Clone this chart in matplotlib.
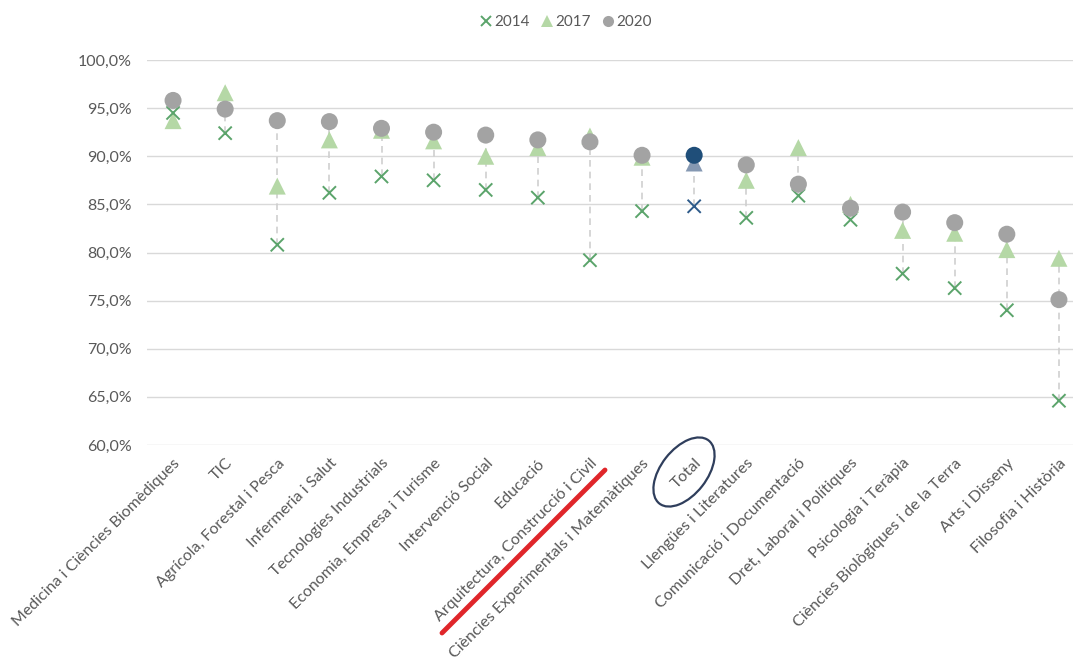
import matplotlib.pyplot as plt
import numpy as np
from matplotlib.patches import Ellipse
from matplotlib.lines import Line2D
from matplotlib.ticker import FuncFormatter

categories = [
    "Medicina i Ciències Biomèdiques", "TIC", "Agrícola, Forestal i Pesca",
    "Infermeria i Salut", "Tecnologies Industrials", "Economia, Empresa i Turisme",
    "Intervenció Social", "Educació", "Arquitectura, Construcció i Civil",
    "Ciències Experimentals i Matemàtiques", "Total", "Llengües i Literatures",
    "Comunicació i Documentació", "Dret, Laboral i Polítiques", "Psicologia i Teràpia",
    "Ciències Biològiques i de la Terra", "Arts i Disseny", "Filosofia i Història",
]
v2014 = [94.5, 92.4, 80.8, 86.2, 87.9, 87.5, 86.5, 85.7, 79.2, 84.3, 84.8, 83.6, 85.9, 83.4, 77.8, 76.3, 74.0, 64.6]
v2017 = [93.7, 96.6, 86.9, 91.7, 92.7, 91.6, 90.0, 90.9, 92.1, 89.9, 89.3, 87.5, 90.9, 85.0, 82.3, 82.0, 80.3, 79.4]
v2020 = [95.8, 94.9, 93.7, 93.6, 92.9, 92.5, 92.2, 91.7, 91.5, 90.1, 90.1, 89.1, 87.1, 84.6, 84.2, 83.1, 81.9, 75.1]
yticks = [60, 65, 70, 75, 80, 85, 90, 95, 100]

total_idx = categories.index("Total")
x = np.arange(len(categories))

c14, c17, c20 = "#5ba46b", "#b5d8a6", "#a3a3a3"
t14, t17, t20 = "#2e5b8a", "#8598b2", "#1f4e79"
txt = "#595959"

plt.rcParams['font.family'] = ['Lato', 'DejaVu Sans']

fig = plt.figure(figsize=(10.73, 6.59), dpi=100)
ax = fig.add_axes([147 / 1073, 214 / 659, 938 / 1073, 385 / 659])
ax.set_xlim(-0.5, len(categories) - 0.5)
ax.set_ylim(60, 100)

for i in x:
    lo = min(v2014[i], v2017[i], v2020[i])
    hi = max(v2014[i], v2017[i], v2020[i])
    ax.plot([i, i], [lo, hi], color="#cfcfcf", lw=1.2, ls=(0, (4, 3)), zorder=2)

col14 = [t14 if i == total_idx else c14 for i in x]
col17 = [t17 if i == total_idx else c17 for i in x]
col20 = [t20 if i == total_idx else c20 for i in x]

ax.scatter(x, v2017, marker="^", s=150, c=col17, zorder=3, linewidths=0)
ax.scatter(x, v2014, marker="x", s=90, c=col14, zorder=4, linewidths=1.4)
ax.scatter(x, v2020, marker="o", s=150, c=col20, zorder=5, linewidths=0)

ax.set_yticks(yticks)
ax.yaxis.set_major_formatter(FuncFormatter(lambda v, p: f"{v:.1f}%".replace(".", ",")))
ax.grid(axis="y", color="#d9d9d9", lw=1)
ax.set_axisbelow(True)
for s in ax.spines.values():
    s.set_visible(False)
ax.tick_params(axis="both", length=0, colors=txt, labelsize=11.5)
ax.tick_params(axis="y", pad=11)
ax.set_xticks(x)
ax.set_xticklabels(categories, rotation=45, ha="right", va="top",
                   rotation_mode="anchor", fontsize=11.5, color=txt)
ax.tick_params(axis="x", pad=8)

handles = [
    Line2D([], [], marker="x", ls="none", color=c14, markersize=7, mew=1.4),
    Line2D([], [], marker="^", ls="none", color=c17, markersize=8, mew=0),
    Line2D([], [], marker="o", ls="none", color=c20, markersize=8, mew=0),
]
fig.legend(handles, ["2014", "2017", "2020"], loc="center", bbox_to_anchor=(565 / 1073, 1 - 22 / 659),
           ncol=3, frameon=False, fontsize=11, labelcolor=txt, handletextpad=0.05,
           columnspacing=0.6, handlelength=1.0)

# hand-drawn annotations
fig.add_artist(Line2D([442 / 1073, 605 / 1073], [1 - 633 / 659, 1 - 470 / 659],
                      color="#e0262a", lw=3.5, solid_capstyle="round"))
fig.add_artist(Ellipse((6.84, (659 - 472) / 100), 0.80, 0.46, angle=52,
                       fill=False, ec="#2f3e5c", lw=1.6, transform=fig.dpi_scale_trans))

fig.savefig("out.png", dpi=100, facecolor="white")
